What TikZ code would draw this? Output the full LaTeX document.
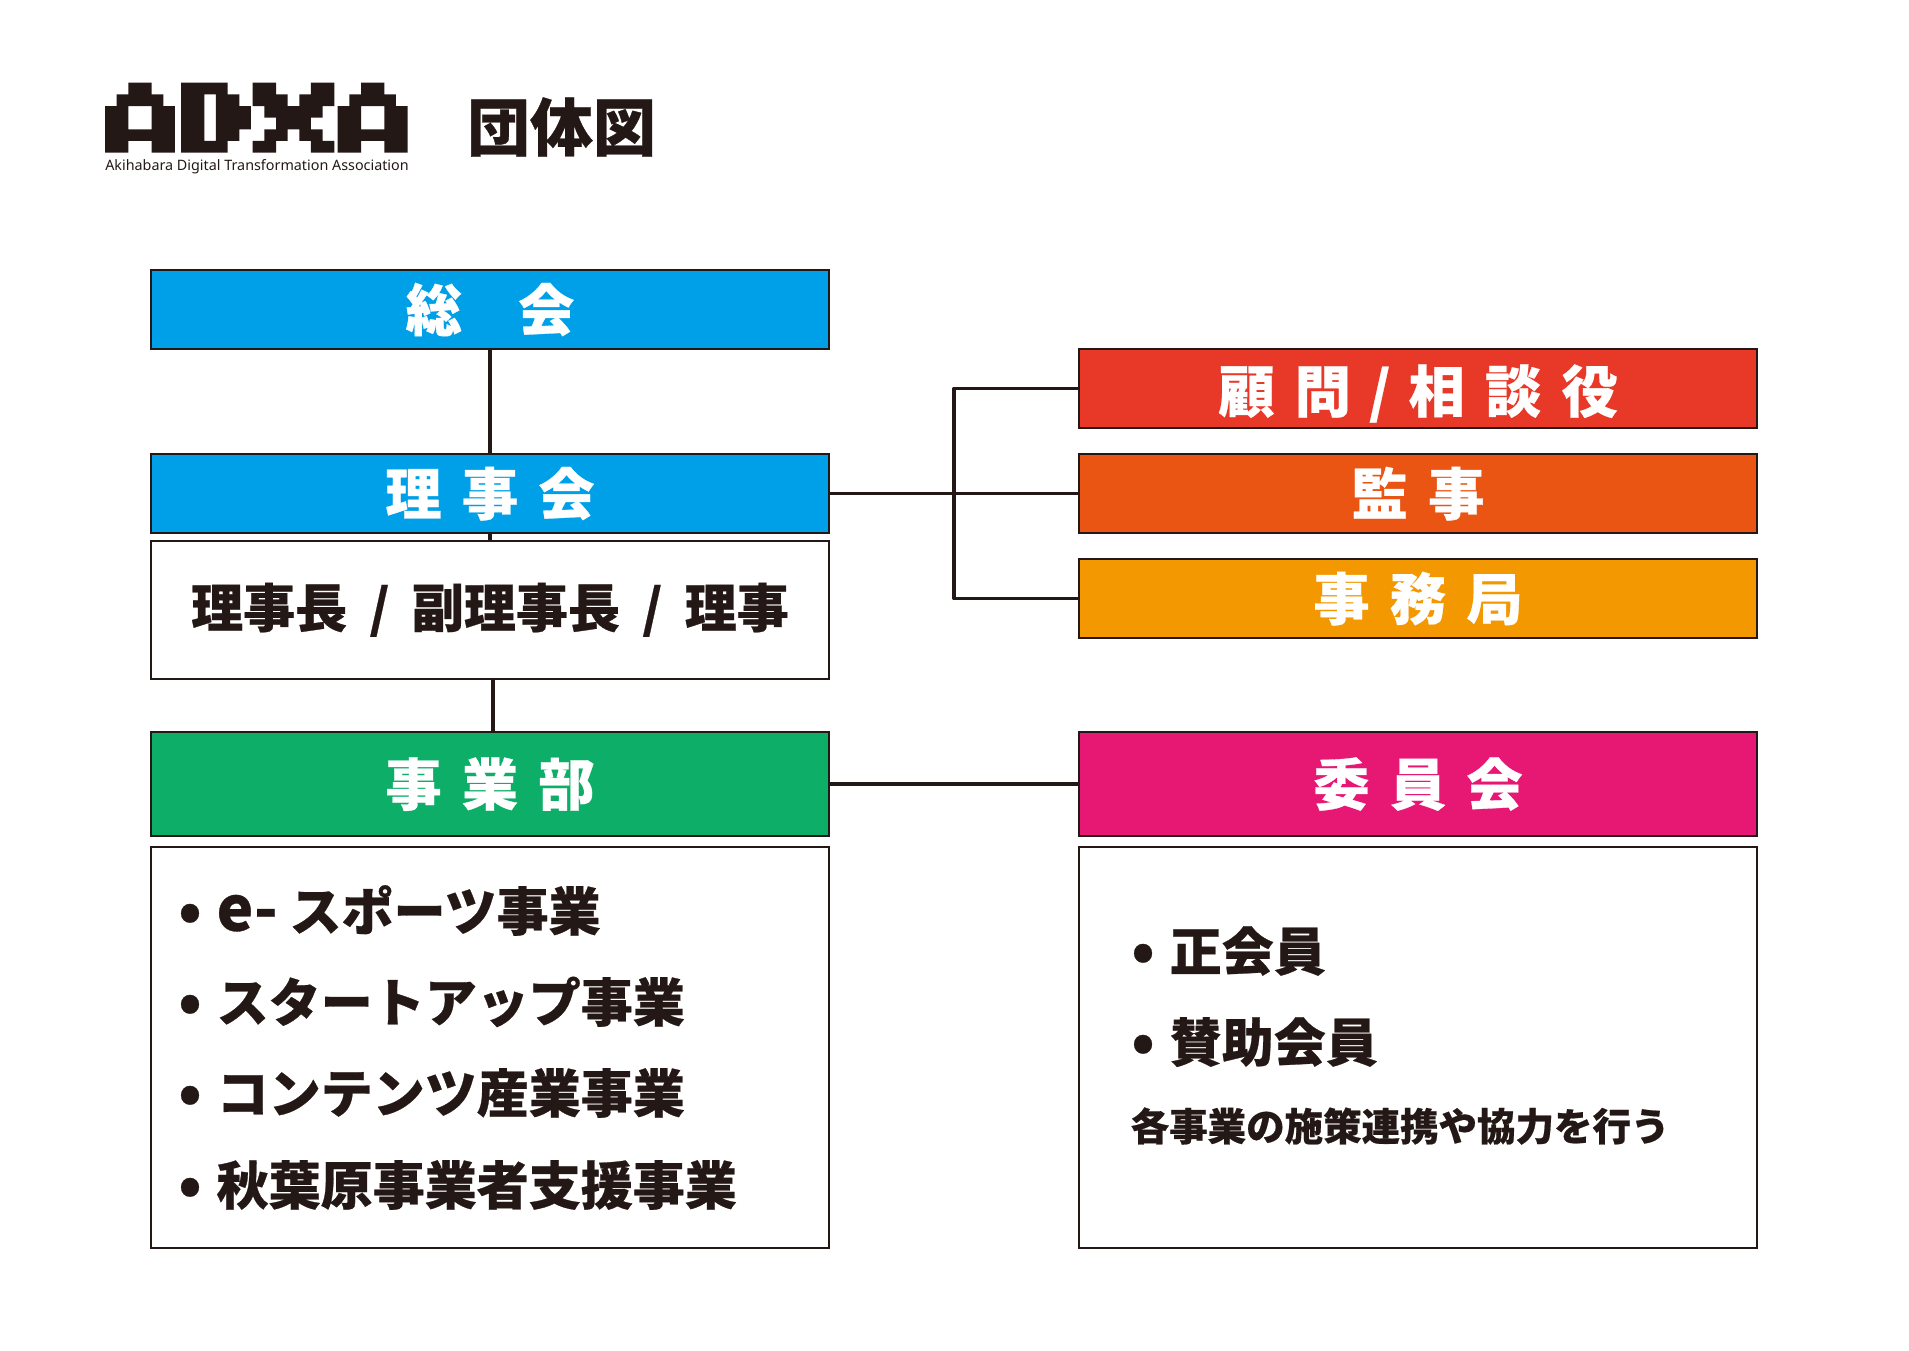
\documentclass[tikz,border=0pt]{standalone}
\usepackage{fontspec}
\usepackage{tikz}
\usetikzlibrary{positioning,calc}
\newfontfamily\jpheavy[FakeBold=0.5]{Noto Sans CJK JP Black}
\newfontfamily\tagfont{Noto Sans}
\definecolor{InkBlack}{RGB}{35,24,21}
\definecolor{SokaiBlue}{RGB}{0,160,233}
\definecolor{KomonRed}{RGB}{232,56,40}
\definecolor{KansaOrange}{RGB}{234,85,20}
\definecolor{JimuAmber}{RGB}{243,152,0}
\definecolor{JigyoGreen}{RGB}{13,174,103}
\definecolor{IinPink}{RGB}{230,24,116}
\newcommand{\gapp}{\hspace{.36em}}
\newcommand{\slashgap}{\hspace{.43em}/\hspace{.43em}}
\newcommand{\bul}{\llap{{\fontsize{16.5}{15}\selectfont •}\hspace{.29em}}}
\newcommand{\letterA}{(2,0)--(4,0)--(4,1)--(5,1)--(5,2)--(6,2)--(6,6)--(4,6)--(4,5)--(2,5)--(2,6)--(0,6)--(0,2)--(1,2)--(1,1)--(2,1)--cycle (2,2)--(4,2)--(4,4)--(2,4)--cycle}
\tikzset{
  band/.style={draw=InkBlack,line width=0.75pt,outer sep=0pt,inner sep=0pt,minimum width=6.78cm,
    minimum height=0.79cm,text=white,text height=14.08pt,text depth=1.92pt,
    font=\jpheavy\fontsize{16}{16}\selectfont},
  panel/.style={draw=InkBlack,line width=0.75pt,fill=white,outer sep=0pt,inner sep=0pt,minimum width=6.78cm,
    text=InkBlack,text height=13pt,text depth=3.2pt,font=\jpheavy\fontsize{14.8}{15}\selectfont},
  entry/.style={anchor=west,inner sep=0pt,text=InkBlack,text height=13pt,text depth=1.8pt,
    font=\jpheavy\fontsize{14.8}{15}\selectfont},
  link/.style={draw=InkBlack,line width=1.05pt,line join=round},
}
\begin{document}
\begin{tikzpicture}[scale=1]
\useasboundingbox (0,0) rectangle (19.09,-13.5);
% logo
\begin{scope}[shift={(1.05,-0.827)},x=0.1165cm,y=-0.1165cm,InkBlack]
\fill[even odd rule] \letterA;
\fill[even odd rule,xshift=0.76cm] (0,0)--(4,0)--(4,1)--(5,1)--(5,2)--(6,2)--(6,4)--(5,4)--(5,5)--(4,5)--(4,6)--(0,6)--cycle (2,1)--(3,1)--(3,5)--(2,5)--cycle;
\fill[xshift=1.477cm] (0,0)--(2,0)--(2,1)--(3,1)--(3,2)--(4,2)--(4,1)--(5,1)--(5,0)--(7,0)--(7,2)--(6,2)--(6,3)--(5,3)--(5,4)--(6,4)--(6,5)--(7,5)--(7,6)--(5,6)--(5,5)--(4,5)--(4,4)--(3,4)--(3,5)--(2,5)--(2,6)--(0,6)--(0,5)--(1,5)--(1,4)--(2,4)--(2,3)--(1,3)--(1,2)--(0,2)--cycle;
\fill[even odd rule,xshift=2.327cm] \letterA;
\end{scope}
\node[inner sep=0pt,anchor=center,text=InkBlack,font=\tagfont\fontsize{4.08}{5}\selectfont] (tagline) at (2.57,-1.67) {Akihabara Digital Transformation Association};
\node[inner sep=0pt,text=InkBlack,font=\jpheavy\fontsize{17.9}{18}\selectfont] (title) at (5.615,-1.27) {団体図};
% left column
\node[band,fill=SokaiBlue] (sokai) at (4.90,-3.095) {総\hspace{1em}会};
\node[band,fill=SokaiBlue] (rijikai) at (4.90,-4.935) {理\gapp 事\gapp 会};
\node[panel,minimum height=1.38cm] (yakuin) at (4.90,-6.10) {理事長\slashgap 副理事長\slashgap 理事};
\node[band,fill=JigyoGreen,minimum height=1.04cm] (jigyobu) at (4.90,-7.84) {事\gapp 業\gapp 部};
\node[panel,minimum height=4.01cm] (jigyolist) at (4.90,-10.475) {};
\node[entry] (item1) at (2.16,-9.11) {\bul {\fontsize{17.5}{15}\selectfont e-} スポーツ事業};
\node[entry] (item2) at (2.16,-10.02) {\bul スタートアップ事業};
\node[entry] (item3) at (2.16,-10.93) {\bul コンテンツ産業事業};
\node[entry] (item4) at (2.16,-11.85) {\bul 秋葉原事業者支援事業};
% right column
\node[band,fill=KomonRed,text height=15.5pt] (komon) at (14.18,-3.885) {顧\gapp 問\hspace{.32em}/\hspace{.32em}相\gapp 談\gapp 役};
\node[band,fill=KansaOrange] (kansa) at (14.18,-4.935) {監\gapp 事};
\node[band,fill=JimuAmber] (jimu) at (14.18,-5.985) {事\gapp 務\gapp 局};
\node[band,fill=IinPink,minimum height=1.04cm] (iinkai) at (14.18,-7.84) {委\gapp 員\gapp 会};
\node[panel,minimum height=4.01cm] (kaiinlist) at (14.18,-10.475) {};
\node[entry] (member1) at (11.69,-9.51) {\bul 正会員};
\node[entry] (member2) at (11.69,-10.42) {\bul 賛助会員};
\node[entry,text height=9.7pt,text depth=1.3pt,font=\jpheavy\fontsize{10.95}{11}\selectfont] (note) at (11.30,-11.26) {各事業の施策連携や協力を行う};
% connectors
\coordinate (trunk) at (9.54,-4.935);
\draw[link] (sokai.south) -- (rijikai.north);
\draw[link] (rijikai.south) -- (yakuin.north);
\draw[link] ($(yakuin.south)+(0.03,0)$) -- ($(jigyobu.north)+(0.03,0)$);
\draw[link] (rijikai.east) -- (kansa.west);
\draw[link] (komon.west) -| (trunk) |- (jimu.west);
\draw[link] (jigyobu.east) -- (iinkai.west);
\end{tikzpicture}
\end{document}
